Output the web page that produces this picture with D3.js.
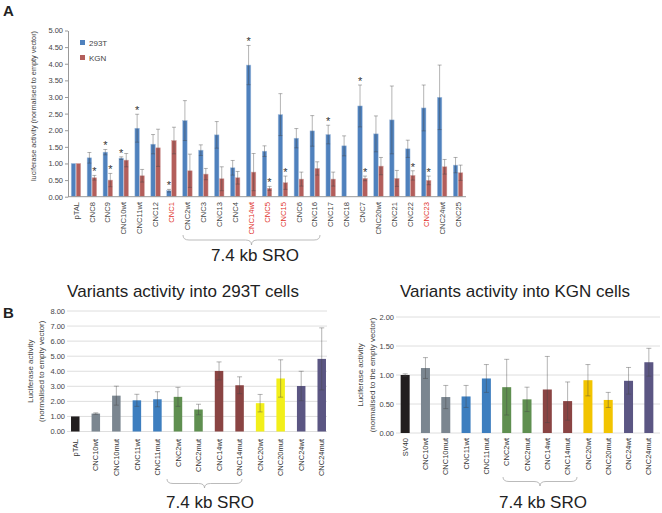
<!DOCTYPE html>
<html><head><meta charset="utf-8">
<script src="https://cdn.jsdelivr.net/npm/d3@7"></script>
<style>
html,body{margin:0;padding:0;background:#fff;}
svg{display:block;font-family:"Liberation Sans",Arial,sans-serif;}
</style></head>
<body>
<svg id="chart" width="662" height="513"></svg>
<script>
// ---------- Panel A data ----------
const catsA = ["pTAL","CNC8","CNC9","CNC10wt","CNC11wt","CNC12","CNC1","CNC2wt","CNC3","CNC13","CNC4","CNC14wt","CNC5","CNC15","CNC6","CNC16","CNC17","CNC18","CNC7","CNC20wt","CNC21","CNC22","CNC23","CNC24wt","CNC25"];
const val293T = [1.00,1.17,1.34,1.16,2.06,1.58,0.18,2.29,1.40,1.86,0.87,3.96,1.37,2.47,1.76,1.98,1.87,1.53,2.73,1.89,2.31,1.44,2.67,2.99,0.95];
const err293T = [0.00,0.16,0.08,0.04,0.42,0.29,0.04,0.60,0.16,0.40,0.22,0.59,0.16,0.63,0.29,0.46,0.28,0.30,0.63,0.54,1.02,0.26,0.69,0.97,0.23];
const valKGN  = [1.00,0.57,0.50,1.10,0.63,1.47,1.69,0.78,0.68,0.54,0.57,0.74,0.25,0.42,0.53,0.85,0.53,null,0.55,0.92,0.55,0.64,0.49,0.90,0.72];
const errKGN  = [0.00,0.07,0.20,0.20,0.19,0.56,0.40,0.50,0.17,0.36,0.19,0.56,0.06,0.20,0.21,0.20,0.21,null,0.07,0.26,0.24,0.14,0.13,0.22,0.23];
const redLabelsA = ["CNC1","CNC14wt","CNC5","CNC15","CNC23"];
const stars293T = ["CNC9","CNC10wt","CNC11wt","CNC1","CNC14wt","CNC17","CNC7"];
const starsKGN  = ["CNC8","CNC9","CNC5","CNC15","CNC7","CNC22","CNC23"];
const ticksA = [0,0.5,1,1.5,2,2.5,3,3.5,4,4.5,5];
const seriesA = ["293T","KGN"];

// ---------- Panel B data ----------
const catsB1 = ["pTAL","CNC10wt","CNC10mut","CNC11wt","CNC11mut","CNC2wt","CNC2mut","CNC14wt","CNC14mut","CNC20wt","CNC20mut","CNC24wt","CNC24mut"];
const valB1 = [1.00,1.19,2.38,2.07,2.14,2.30,1.46,4.02,3.07,1.88,3.52,3.02,4.82];
const errB1 = [0.00,0.05,0.63,0.40,0.50,0.63,0.35,0.60,0.56,0.58,1.24,0.98,2.06];
const ticksB1 = [0,1,2,3,4,5,6,7,8];
const catsB2 = ["SV40","CNC10wt","CNC10mut","CNC11wt","CNC11mut","CNC2wt","CNC2mut","CNC14wt","CNC14mut","CNC20wt","CNC20mut","CNC24wt","CNC24mut"];
const valB2 = [1.00,1.12,0.62,0.63,0.94,0.79,0.58,0.75,0.55,0.91,0.57,0.90,1.22];
const errB2 = [0.02,0.18,0.20,0.19,0.24,0.48,0.21,0.57,0.33,0.27,0.13,0.23,0.24];
const ticksB2 = [0,0.5,1,1.5,2];

const colA = {"293T":"#4f81bd","KGN":"#b35e5b"};
const colAEdge = {"293T":"#a9c2e0","KGN":"#d6a8a6"};
const colB1 = ["#221e1f","#7b8690","#7b8690","#3d7ebf","#3d7ebf","#5f8f50","#5f8f50","#8a4443","#8a4443","#f2ef1a","#f2ef1a","#5b5683","#5b5683"];
const colB2 = ["#221e1f","#7b8690","#7b8690","#3d7ebf","#3d7ebf","#5f8f50","#5f8f50","#8a4443","#8a4443","#f2c400","#f2c400","#5b5683","#5b5683"];

const svg = d3.select("#chart");
const errStroke = "rgba(70,70,70,0.45)";
const fmt = d3.format(".2f");

function brace(g, x1, x2, y, h) {
  const m = (x1 + x2) / 2, r = 6, hh = h / 2;
  const p = `M${x1},${y} Q${x1},${y+hh} ${x1+r},${y+hh} L${m-r},${y+hh} Q${m},${y+hh} ${m},${y+h} Q${m},${y+hh} ${m+r},${y+hh} L${x2-r},${y+hh} Q${x2},${y+hh} ${x2},${y}`;
  g.append("path").attr("d", p).attr("fill","none").attr("stroke","#aaa").attr("stroke-width",0.8);
}

function errBar(g, cx, y, yLo, yHi, cap) {
  g.append("line").attr("x1",cx).attr("x2",cx).attr("y1",yLo).attr("y2",yHi).attr("stroke",errStroke).attr("stroke-width",0.9);
  [yLo,yHi].forEach(v => g.append("line").attr("x1",cx-cap).attr("x2",cx+cap).attr("y1",v).attr("y2",v).attr("stroke",errStroke).attr("stroke-width",0.9));
}

// ================= Panel A =================
(function(){
  const g = svg.append("g");
  const x = d3.scaleBand().domain(catsA).range([68, 466]);
  const y = d3.scaleLinear().domain([0,5]).range([196.7, 30.5]);
  const bw = 5;

  g.append("text").attr("x",3).attr("y",16).attr("font-size",15).attr("font-weight","bold").attr("fill","#222").text("A");

  const ya = g.append("g").attr("transform","translate(68,0)")
    .call(d3.axisLeft(y).tickValues(ticksA).tickFormat(fmt).tickSize(3).tickSizeOuter(0));
  ya.select(".domain").attr("stroke","#999");
  ya.selectAll(".tick line").attr("stroke","#999");
  ya.selectAll(".tick text").attr("font-size",7.5).attr("fill","#444").attr("x",-5).attr("font-family","Liberation Sans, Arial, sans-serif");

  g.append("text").attr("transform","translate(36,106) rotate(-90)").attr("text-anchor","middle")
    .attr("font-size",7.3).attr("fill","#444").text("luciferase activity (normalised to empty vector)");

  catsA.forEach((c,i) => {
    const cx = x(c) + x.bandwidth()/2;
    const vals = [[val293T[i], err293T[i], "293T", cx - bw], [valKGN[i], errKGN[i], "KGN", cx]];
    vals.forEach(([v,e,s,x0]) => {
      if (v === null) return;
      g.append("rect").attr("x",x0+0.25).attr("y",y(v)).attr("width",bw-0.5).attr("height",y(0)-y(v))
        .attr("fill",colA[s]).attr("stroke",colAEdge[s]).attr("stroke-width",0.5);
      if (e > 0) errBar(g, x0 + bw/2, y(v), y(v-e), y(v+e), 2);
      const starList = s === "293T" ? stars293T : starsKGN;
      if (starList.includes(c)) {
        g.append("text").attr("x",x0+bw/2).attr("y",y(v+e)).attr("text-anchor","middle")
          .attr("font-size",11).attr("fill","#333").text("*");
      }
    });
  });

  g.append("line").attr("x1",68).attr("x2",466).attr("y1",y(0)).attr("y2",y(0)).attr("stroke","#999");

  catsA.forEach(c => {
    const cx = x(c) + x.bandwidth()/2;
    g.append("text").attr("transform",`translate(${cx},202) rotate(-90)`).attr("text-anchor","end")
      .attr("dy","0.35em").attr("font-size",7.6)
      .attr("fill", redLabelsA.includes(c) ? "#e0302a" : "#444").text(c);
  });

  seriesA.forEach((s,i) => {
    g.append("rect").attr("x",80).attr("y",40 + i*15).attr("width",5).attr("height",5).attr("fill",colA[s]);
    g.append("text").attr("x",89).attr("y",45.5 + i*15).attr("font-size",8).attr("fill","#444").text(s);
  });

  brace(g, 183, 320, 235, 10);
  g.append("text").attr("x",255).attr("y",260.5).attr("text-anchor","middle").attr("font-size",17).attr("fill","#222").text("7.4 kb SRO");
})();

// ================= Panel B =================
function panelB(opts) {
  const g = svg.append("g");
  const x = d3.scaleBand().domain(opts.cats).range(opts.xr);
  const y = d3.scaleLinear().domain([0, opts.ymax]).range(opts.yr);
  const bw = opts.bw;

  g.append("text").attr("x",opts.titleX).attr("y",297).attr("text-anchor","middle").attr("font-size",17).attr("fill","#222").text(opts.title);

  opts.ticks.forEach(t => {
    g.append("line").attr("x1",opts.gx[0]).attr("x2",opts.gx[1]).attr("y1",y(t)).attr("y2",y(t)).attr("stroke","#d6d6d6").attr("stroke-width",0.8);
    g.append("text").attr("x",opts.gx[0]-2).attr("y",y(t)).attr("dy","0.35em").attr("text-anchor","end")
      .attr("font-size",7.5).attr("fill","#444").text(fmt(t));
  });

  const ym = (opts.yr[0] + opts.yr[1]) / 2;
  opts.ytitle.forEach((line,i) => {
    g.append("text").attr("transform",`translate(${opts.ytx[i]},${ym}) rotate(-90)`).attr("text-anchor","middle")
      .attr("font-size",8).attr("fill","#444").text(line);
  });

  opts.cats.forEach((c,i) => {
    const cx = x(c) + x.bandwidth()/2;
    const v = opts.vals[i], e = opts.errs[i];
    g.append("rect").attr("x",cx-bw/2).attr("y",y(v)).attr("width",bw).attr("height",y(0)-y(v)).attr("fill",opts.cols[i]);
    if (e > 0) errBar(g, cx, y(v), y(v-e), y(v+e), 2.5);
    g.append("text").attr("transform",`translate(${cx},${opts.labY}) rotate(-90)`).attr("text-anchor","end")
      .attr("dy","0.35em").attr("font-size",7.5).attr("fill","#333").text(c);
  });

  brace(g, opts.brace[0], opts.brace[1], opts.brace[2], 9);
  g.append("text").attr("x",opts.sroX).attr("y",507.5).attr("text-anchor","middle").attr("font-size",17).attr("fill","#222").text("7.4 kb SRO");
}

svg.append("text").attr("x",3).attr("y",318).attr("font-size",15).attr("font-weight","bold").attr("fill","#222").text("B");

panelB({cats:catsB1, vals:valB1, errs:errB1, ticks:ticksB1, ymax:8, xr:[65,332], yr:[431.5,311], bw:8.5,
  gx:[67,327], cols:colB1, title:"Variants activity into 293T cells", titleX:183,
  ytitle:["Luciferase activity","(normalised to empty vector)"], ytx:[33,44], labY:439,
  brace:[167,242,479], sroX:210});

panelB({cats:catsB2, vals:valB2, errs:errB2, ticks:ticksB2, ymax:2, xr:[395,659], yr:[433,317], bw:9,
  gx:[396,660], cols:colB2, title:"Variants activity into KGN cells", titleX:515,
  ytitle:["Luciferase activity","(normalised to the empty vector)"], ytx:[363,375], labY:438,
  brace:[503,577,477], sroX:543});
</script>
</body></html>
